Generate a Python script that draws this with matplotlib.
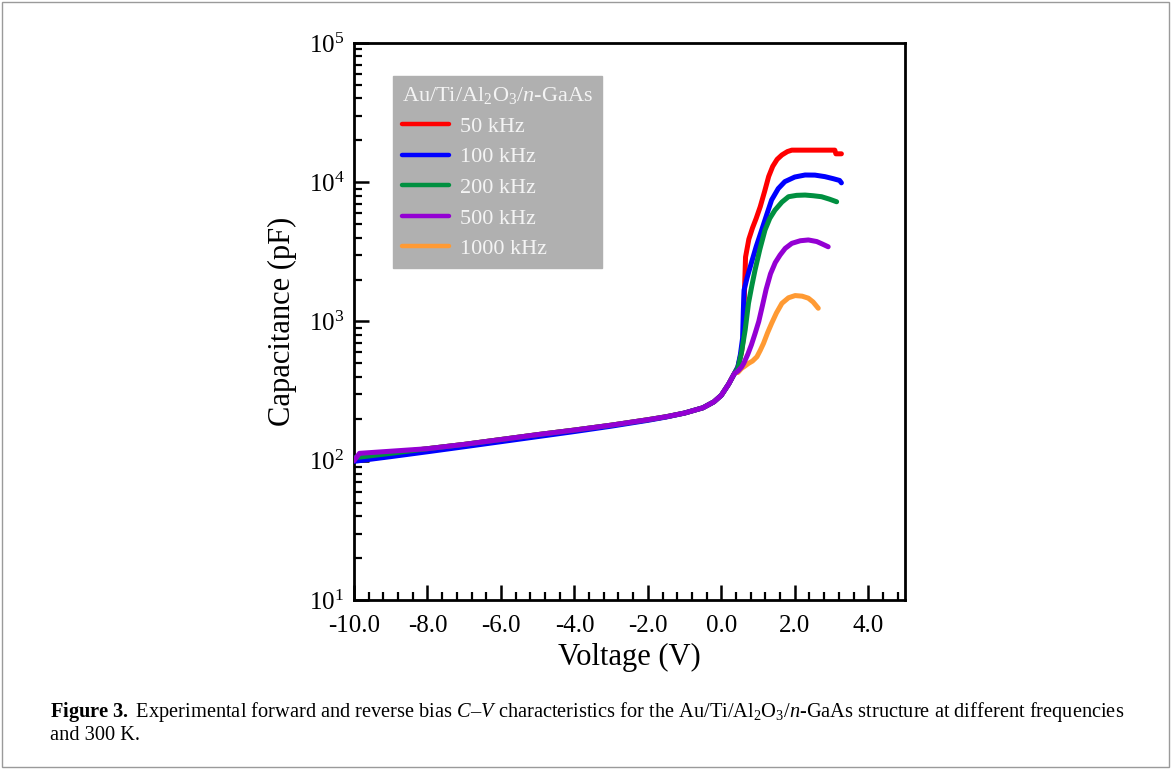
import math
import matplotlib
matplotlib.use('Agg')
import matplotlib.pyplot as plt
from matplotlib.ticker import MultipleLocator, LogLocator, NullFormatter, FuncFormatter
import matplotlib.patches as mpatches

plt.rcParams['font.family'] = ['Liberation Serif', 'DejaVu Serif']
plt.rcParams['mathtext.fontset'] = 'custom'
plt.rcParams['mathtext.rm'] = 'Liberation Serif'
plt.rcParams['mathtext.it'] = 'Liberation Serif:italic'
plt.rcParams['mathtext.bf'] = 'Liberation Serif:bold'

# ---------------- data ----------------
# common reverse-bias branch (V, pF)
rev_v = [-10, -9, -8, -7, -6, -5, -4, -3, -2, -1.5, -1, -0.5, -0.2, 0, 0.2, 0.35]
rev_c = [105, 113, 122, 131, 142, 154, 166, 180, 197, 207, 220, 240, 265, 295, 355, 420]
rev_c_100 = [99, 107, 116, 126, 137, 149, 162, 177, 195, 206, 220, 240, 265, 295, 355, 420]
rev_v_500 = [-10, -9.85, -8, -7, -6, -5, -4, -3, -2, -1.5, -1, -0.5, -0.2, 0, 0.2, 0.35]
rev_c_500 = [100, 113, 122, 131, 142, 154, 166, 180, 197, 207, 220, 240, 265, 295, 355, 420]

# forward-bias branches
f50_v = [0.45, 0.55, 0.6, 0.63, 0.66, 0.75, 0.85, 0.95, 1.06, 1.18, 1.29, 1.4, 1.52, 1.65, 1.8, 1.92, 2.2, 2.5, 2.8, 3.09, 3.12, 3.27]
f50_c = [470, 600, 760, 1600, 2900, 3900, 4700, 5500, 6670, 8600, 11000, 13000, 14600, 15700, 16600, 17000, 17000, 17000, 17000, 17000, 16000, 16000]

f100_v = [0.45, 0.52, 0.58, 0.6, 0.62, 0.7, 0.79, 0.95, 1.10, 1.25, 1.37, 1.55, 1.73, 2.0, 2.28, 2.55, 2.82, 3.05, 3.22, 3.27]
f100_c = [470, 580, 760, 1200, 1680, 2050, 2480, 3450, 4540, 6000, 7460, 9000, 10100, 10900, 11270, 11250, 10970, 10600, 10300, 9900]

f200_v = [0.45, 0.55, 0.65, 0.74, 0.83, 0.92, 1.05, 1.19, 1.32, 1.46, 1.65, 1.83, 2.05, 2.28, 2.5, 2.73, 2.95, 3.14]
f200_c = [460, 600, 870, 1350, 1800, 2350, 3300, 4540, 5500, 6300, 7200, 7870, 8050, 8090, 8000, 7870, 7550, 7240]

f500_v = [0.45, 0.55, 0.61, 0.72, 0.82, 0.92, 1.02, 1.12, 1.22, 1.34, 1.47, 1.6, 1.74, 1.92, 2.15, 2.37, 2.6, 2.75, 2.91]
f500_c = [440, 470, 500, 580, 680, 820, 1000, 1300, 1700, 2200, 2650, 3000, 3350, 3640, 3800, 3850, 3750, 3600, 3440]

f1000_v = [0.45, 0.55, 0.65, 0.74, 0.85, 0.97, 1.06, 1.15, 1.26, 1.37, 1.5, 1.65, 1.83, 2.01, 2.2, 2.37, 2.5, 2.64]
f1000_c = [430, 460, 480, 500, 520, 558, 620, 697, 830, 970, 1150, 1350, 1480, 1535, 1520, 1470, 1380, 1245]

labels = ['50 kHz', '100 kHz', '200 kHz', '500 kHz', '1000 kHz']
colors = ['#ff0000', '#0000ff', '#009040', '#9400d3', '#ff9a33']
xticks = [-10.0, -8.0, -6.0, -4.0, -2.0, 0.0, 2.0, 4.0]

series = [
    (rev_v + f50_v, rev_c + f50_c, 2),
    (rev_v + f100_v, rev_c_100 + f100_c, 3),
    (rev_v + f200_v, rev_c + f200_c, 4),
    (rev_v_500 + f500_v, rev_c_500 + f500_c, 6),
    (f1000_v, f1000_c, 5),
]

# ---------------- figure ----------------
fig = plt.figure(figsize=(11.71, 7.69), dpi=100)
fig.patches.append(mpatches.Rectangle((0.002, 0.003), 0.996, 0.994, transform=fig.transFigure,
                                      fill=False, edgecolor='#9a9a9a', linewidth=1.0))
ax = fig.add_axes([0.3023, 0.2198, 0.4705, 0.7243])

handles = []
for (v, c, z), lab, col in zip(series, labels, colors):
    h, = ax.plot(v, c, color=col, lw=3.6, label=lab, zorder=z,
                 solid_capstyle='round', solid_joinstyle='round')
    handles.append(h)

ax.set_yscale('log')
ax.set_xlim(-10, 5)
ax.set_ylim(10, 1e5)
ax.set_xticks(xticks)
ax.xaxis.set_minor_locator(MultipleLocator(0.4))
ax.xaxis.set_major_formatter(FuncFormatter(lambda x, p: '%.1f' % (x + 0.0)))
ax.yaxis.set_major_locator(LogLocator(base=10, numticks=10))
ax.yaxis.set_minor_locator(LogLocator(base=10, subs=range(2, 10), numticks=20))
ax.yaxis.set_minor_formatter(NullFormatter())
ax.yaxis.set_major_formatter(FuncFormatter(lambda y, p: r'$10^{%d}$' % round(math.log10(y))))

for s in ax.spines.values():
    s.set_linewidth(2.0)
ax.tick_params(which='major', direction='in', length=11, width=1.8, labelsize=18,
               top=False, right=False)
ax.tick_params(axis='x', which='major', pad=11)
ax.tick_params(axis='y', which='major', pad=7)
ax.tick_params(which='minor', direction='in', length=6, width=1.6, top=False, right=False)

ax.set_xlabel('Voltage (V)', fontsize=22, labelpad=4)
ax.set_ylabel('Capacitance (pF)', fontsize=22, labelpad=8)

leg = ax.legend(handles=handles, loc='upper left', bbox_to_anchor=(0.071, 0.94),
                title=r'Au/Ti/Al$_2$O$_3$/$n$-GaAs', fontsize=16, title_fontsize=16,
                frameon=True, fancybox=False, framealpha=1.0, handlelength=2.1,
                handletextpad=0.5, labelspacing=0.45, borderpad=0.4, borderaxespad=0)
leg.get_frame().set_facecolor('#b0b0b0')
leg.get_frame().set_edgecolor('#b0b0b0')
leg._legend_box.align = 'left'
leg.get_title().set_color('#f4f4f4')
for t in leg.get_texts():
    t.set_color('#f4f4f4')
for lh in leg.get_lines():
    lh.set_linewidth(3.2)

cap1 = (r'$\mathbf{Figure\ 3.}$ Experimental forward and reverse bias $C$–$V$ characteristics for the '
        r'Au/Ti/Al$_2$O$_3$/$n$-GaAs structure at different frequencies')
fig.text(0.043, 1 - 712 / 769, cap1, fontsize=14.7, va='center', ha='left')
fig.text(0.043, 1 - 736 / 769, 'and 300 K.', fontsize=14.7, va='center', ha='left')

fig.savefig('out.png', dpi=100)
